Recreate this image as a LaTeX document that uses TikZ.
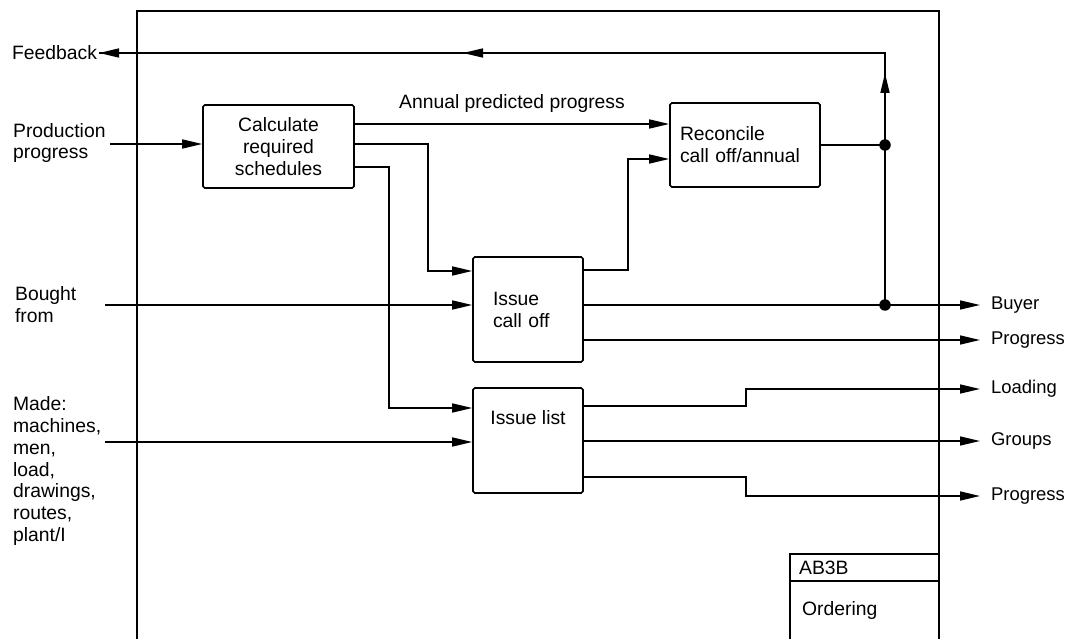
\documentclass[tikz,border=0pt]{standalone}
\usepackage{fontspec}
\setmainfont{Liberation Sans}
\usetikzlibrary{arrows.meta,positioning}
\newcommand{\diagfont}{\fontsize{11}{12.5}\selectfont}
\newcommand{\outfont}{\fontsize{10.5}{12.5}\selectfont}

\begin{document}
\begin{tikzpicture}[
  proc/.style={draw,line width=0.9pt,rounded corners=1pt,inner sep=0pt,
    align=left,font=\diagfont},
  lbl/.style={inner sep=1pt,align=left,font=\diagfont},
  outlbl/.style={inner sep=1pt,anchor=west,font=\outfont},
  wire/.style={line width=0.9pt},
  flow/.style={-{Triangle[length=4mm,width=1.8mm]},line width=0.9pt},
  joint/.style={circle,fill,inner sep=0pt,minimum size=2.3mm}]
  \useasboundingbox (0,0) rectangle (21.3,12.78);
  % frame, open at the foot
  \draw[wire] (2.74,0) -- (2.74,12.56) -- (18.78,12.56) -- (18.78,0);
  \draw[wire] (15.8,0) -- (15.8,1.7) -- (18.78,1.7);
  \draw[wire] (15.8,1.16) -- (18.78,1.16);
  \node[lbl,anchor=west] (ref)  at (15.94,1.42) {AB3B};
  \node[lbl,anchor=west] (name) at (16.0,0.58)  {Ordering};

  \node[proc,align=center,minimum width=3.02cm,minimum height=1.66cm] (calc) at (5.57,9.85)
    {Calculate\\required\\schedules};
  \node[proc,text width=2.6cm,minimum width=3.0cm,minimum height=1.68cm] (rec) at (14.9,9.88)
    {Reconcile\\call off/annual};
  \node[proc,text width=1.4cm,minimum width=2.2cm,minimum height=2.1cm] (call) at (10.56,6.59)
    {Issue\\call off};
  \node[proc,minimum width=2.2cm,minimum height=2.1cm] (list) at (10.56,3.97) {};
  \node[lbl] (listtxt) at ([yshift=-6mm]list.north) {Issue list};

  \node[lbl,anchor=west] (fb)  at (0.2,11.72)  {Feedback};
  \node[lbl,anchor=west] (pp)  at (0.22,9.92)  {Production\\progress};
  \node[lbl,anchor=west] (bf)  at (0.26,6.68)  {Bought\\from};
  \node[lbl,anchor=north west] (md) at (0.22,4.9)
    {Made:\\machines,\\men,\\load,\\drawings,\\routes,\\plant/I};

  \node[outlbl] (buy)   at (19.78,6.68) {Buyer};
  \node[outlbl] (prog1) at (19.78,5.98) {Progress};
  \node[outlbl] (load)  at (19.78,5.0)  {Loading};
  \node[outlbl] (grp)   at (19.78,3.96) {Groups};
  \node[outlbl] (prog2) at (19.78,2.86) {Progress};

  \coordinate (pin) at (2.2,9.9);
  \coordinate (bin) at (2.1,6.68);
  \coordinate (min) at (2.1,3.94);
  \coordinate (j1)  at (17.7,9.88);
  \coordinate (j2)  at (17.7,6.68);
  \coordinate (top) at (17.7,11.72);

  \draw[flow] (pin) -- (pin -| calc.west);
  \draw[flow] (bin) -- (bin -| call.west);
  \draw[flow] (min) -- (min -| list.west);

  \draw[flow] ([yshift=4.5mm]calc.east) -- ([yshift=4.5mm]calc.east -| rec.west)
    node[midway,above=5pt,lbl] {Annual predicted progress};
  \draw[flow] ([yshift=0.5mm]calc.east) -- ++(1.46,0) |- ([yshift=7.7mm]call.west);
  \draw[flow] ([yshift=-4.1mm]calc.east) -- ++(0.68,0) |- ([yshift=6.5mm]list.west);
  \draw[flow] ([yshift=7.9mm]call.east) -- ++(0.88,0) |- ([yshift=-2.8mm]rec.west);

  \draw[wire] (rec.east) -- (j1);
  \draw[wire] (j2) -- (top) -- (fb.east);
  \draw[flow] (j1) -- ([yshift=-4mm]top);
  \draw[flow] (top) -- ++(-8.44,0);
  \draw[flow] (top) -- (fb.east);
  \node[joint] at (j1) {};
  \node[joint] at (j2) {};

  \draw[flow,shorten >=1.8mm] (call.east |- buy.west) -- (buy.west);
  \draw[flow,shorten >=1.8mm] (call.east |- prog1.west) -- (prog1.west);
  \draw[flow,shorten >=1.8mm] ([yshift=6.9mm]list.east) -- ++(3.24,0) |- (load.west);
  \draw[flow,shorten >=1.8mm] (list.east |- grp.west) -- (grp.west);
  \draw[flow,shorten >=1.8mm] ([yshift=-7.3mm]list.east) -- ++(3.24,0) |- (prog2.west);
\end{tikzpicture}
\end{document}
